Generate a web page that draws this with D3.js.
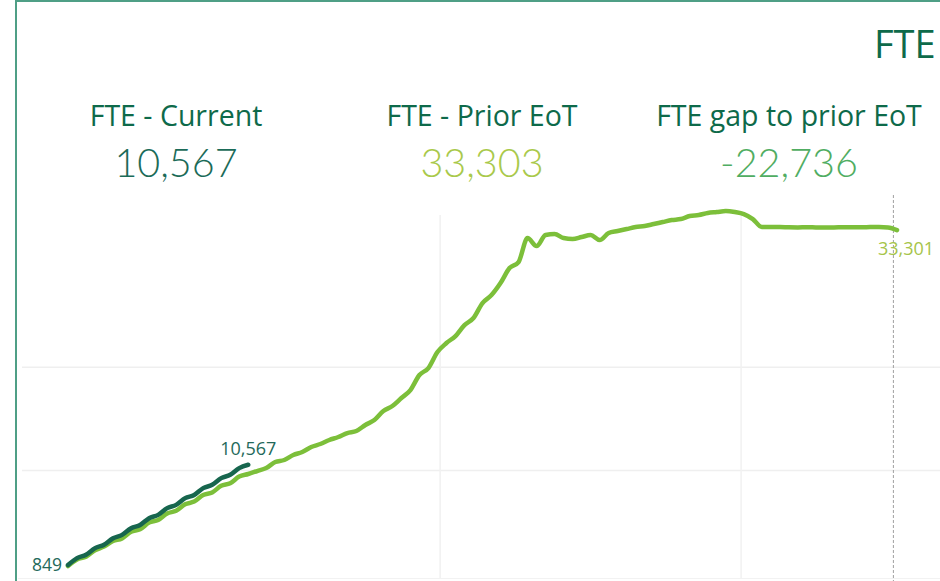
<!DOCTYPE html>
<html>
<head>
<meta charset="utf-8">
<script src="https://cdn.jsdelivr.net/npm/d3@7"></script>
<style>
  html, body { margin: 0; padding: 0; background: #fff; }
  svg { display: block; font-family: "Open Sans", "Noto Sans", sans-serif; }
</style>
</head>
<body>
<div id="my_dataviz"></div>
<script>
'use strict';

// KPI tiles
const kpiLabels = ["FTE - Current", "FTE - Prior EoT", "FTE gap to prior EoT"];
const kpiValues = [10567, 33303, -22736];

// FTE by half-week period, cumulative
const currentFte = [849, 1520, 1840, 2490, 2810, 3450, 3770, 4420, 4730, 5390,
  5710, 6360, 6680, 7330, 7640, 8300, 8620, 9270, 9590, 10240, 10567];

const priorFte = [756, 1395, 1647, 2286, 2635, 3177, 3429, 4069, 4320, 4960,
  5212, 5851, 6103, 6742, 6994, 7633, 7885, 8525, 8776, 9416,
  9668, 9958, 10249, 10830, 11024, 11508, 11799, 12283, 12574, 12961,
  13252, 13639, 13833, 14414, 14898, 15770, 16254, 17029, 17804, 19258,
  19935, 21485, 22357, 23035, 24101, 24779, 26232, 27007, 28170, 29623,
  30203, 32529, 31754, 32820, 32916, 32529, 32432, 32626, 32820, 32335,
  33013, 33206, 33400, 33594, 33691, 33884, 34079, 34273, 34369, 34660,
  34757, 34951, 35048, 35144, 35048, 34854, 34369, 33594, 33590, 33600,
  33570, 33560, 33580, 33560, 33550, 33560, 33570, 33580, 33570, 33590,
  33600, 33560, 33301];

const yGridTicks = [10000, 20000];
const xGridTicks = [41.3, 74.7];
const xRefLine = 91.6;

const W = 940, H = 581;

const svg = d3.select("#my_dataviz")
  .append("svg")
    .attr("width", W)
    .attr("height", H);

// dashboard frame
svg.append("line")
  .attr("x1", 16).attr("x2", W).attr("y1", 1).attr("y2", 1)
  .style("stroke", "#4f9f86").style("stroke-width", 2);
svg.append("line")
  .attr("x1", 16).attr("x2", 16).attr("y1", 0).attr("y2", H)
  .style("stroke", "#4f9f86").style("stroke-width", 2);

// title (cut off at the right edge)
svg.append("text")
  .attr("x", 874).attr("y", 58)
  .style("font-size", "38px")
  .style("font-weight", 500)
  .style("fill", "#0e6a4a")
  .text("FTE");

let kpiX = [176, 482, 789];
let kpiColor = ["#1b6b58", "#a9c94b", "#50ad62"];
let fmt = d3.format(",");
let fmtKpi = d => fmt(d).replace("\u2212", "-");

svg.append("g").selectAll("text")
  .data(kpiLabels)
  .enter()
  .append("text")
  .attr("x", (d, i) => kpiX[i])
  .attr("y", 126)
  .attr("text-anchor", "middle")
  .style("font-size", "28.5px")
  .style("font-weight", 500)
  .style("fill", "#0e6a4a")
  .text(d => d);

svg.append("g").selectAll("text")
  .data(kpiValues)
  .enter()
  .append("text")
  .attr("x", (d, i) => kpiX[i])
  .attr("y", 177)
  .attr("text-anchor", "middle")
  .style("font-family", "Lato, 'Open Sans', sans-serif")
  .style("font-size", "39.5px")
  .style("font-weight", 300)
  .style("fill", (d, i) => kpiColor[i])
  .text(d => fmtKpi(d));

// scales
let x = d3.scaleLinear()
  .domain([0, priorFte.length - 1])
  .range([68, 897]);

let y = d3.scaleLinear()
  .domain([0, 36700])
  .range([573.8, 195]);

// gridlines
svg.append("g").selectAll("line")
  .data(yGridTicks)
  .enter()
  .append("line")
  .attr("x1", 22).attr("x2", W)
  .attr("y1", d => y(d)).attr("y2", d => y(d))
  .style("stroke", "#efefef").style("stroke-width", 1.5);

svg.append("g").selectAll("line")
  .data(xGridTicks)
  .enter()
  .append("line")
  .attr("x1", d => x(d)).attr("x2", d => x(d))
  .attr("y1", 215).attr("y2", 578)
  .style("stroke", "#f1f1f1").style("stroke-width", 1.5);

svg.append("line")
  .attr("x1", 18).attr("x2", W).attr("y1", 578.5).attr("y2", 578.5)
  .style("stroke", "#f2f2f2").style("stroke-width", 1);

svg.append("line")
  .attr("x1", x(xRefLine)).attr("x2", x(xRefLine))
  .attr("y1", 195).attr("y2", 581)
  .style("stroke", "#a0a0a0")
  .style("stroke-width", 1)
  .style("stroke-dasharray", "3,2");

let line = d3.line()
  .x((d, i) => x(i))
  .y(d => y(d))
  .curve(d3.curveMonotoneX);

svg.append("path")
  .datum(priorFte)
  .attr("d", line)
  .style("fill", "none")
  .style("stroke", "#7cbf3a")
  .style("stroke-width", 4.5)
  .style("stroke-linecap", "round")
  .style("stroke-linejoin", "round");

svg.append("path")
  .datum(currentFte)
  .attr("d", line)
  .style("fill", "none")
  .style("stroke", "#17664e")
  .style("stroke-width", 4.5)
  .style("stroke-linecap", "round")
  .style("stroke-linejoin", "round");

// line labels
let lastCur = currentFte.length - 1;
let lastPrior = priorFte.length - 1;

svg.append("text")
  .attr("x", x(0) - 6).attr("y", y(currentFte[0]) + 6)
  .attr("text-anchor", "end")
  .style("font-size", "17.5px")
  .style("fill", "#24695a")
  .text(fmt(currentFte[0]));

svg.append("text")
  .attr("x", x(lastCur)).attr("y", y(currentFte[lastCur]) - 10)
  .attr("text-anchor", "middle")
  .style("font-size", "18px")
  .style("fill", "#24695a")
  .text(fmt(currentFte[lastCur]));

svg.append("text")
  .attr("x", x(lastPrior) - 19).attr("y", y(priorFte[lastPrior]) + 25)
  .attr("text-anchor", "start")
  .style("font-size", "18px")
  .style("fill", "#a6c44a")
  .text(fmt(priorFte[lastPrior]));
</script>
</body>
</html>
